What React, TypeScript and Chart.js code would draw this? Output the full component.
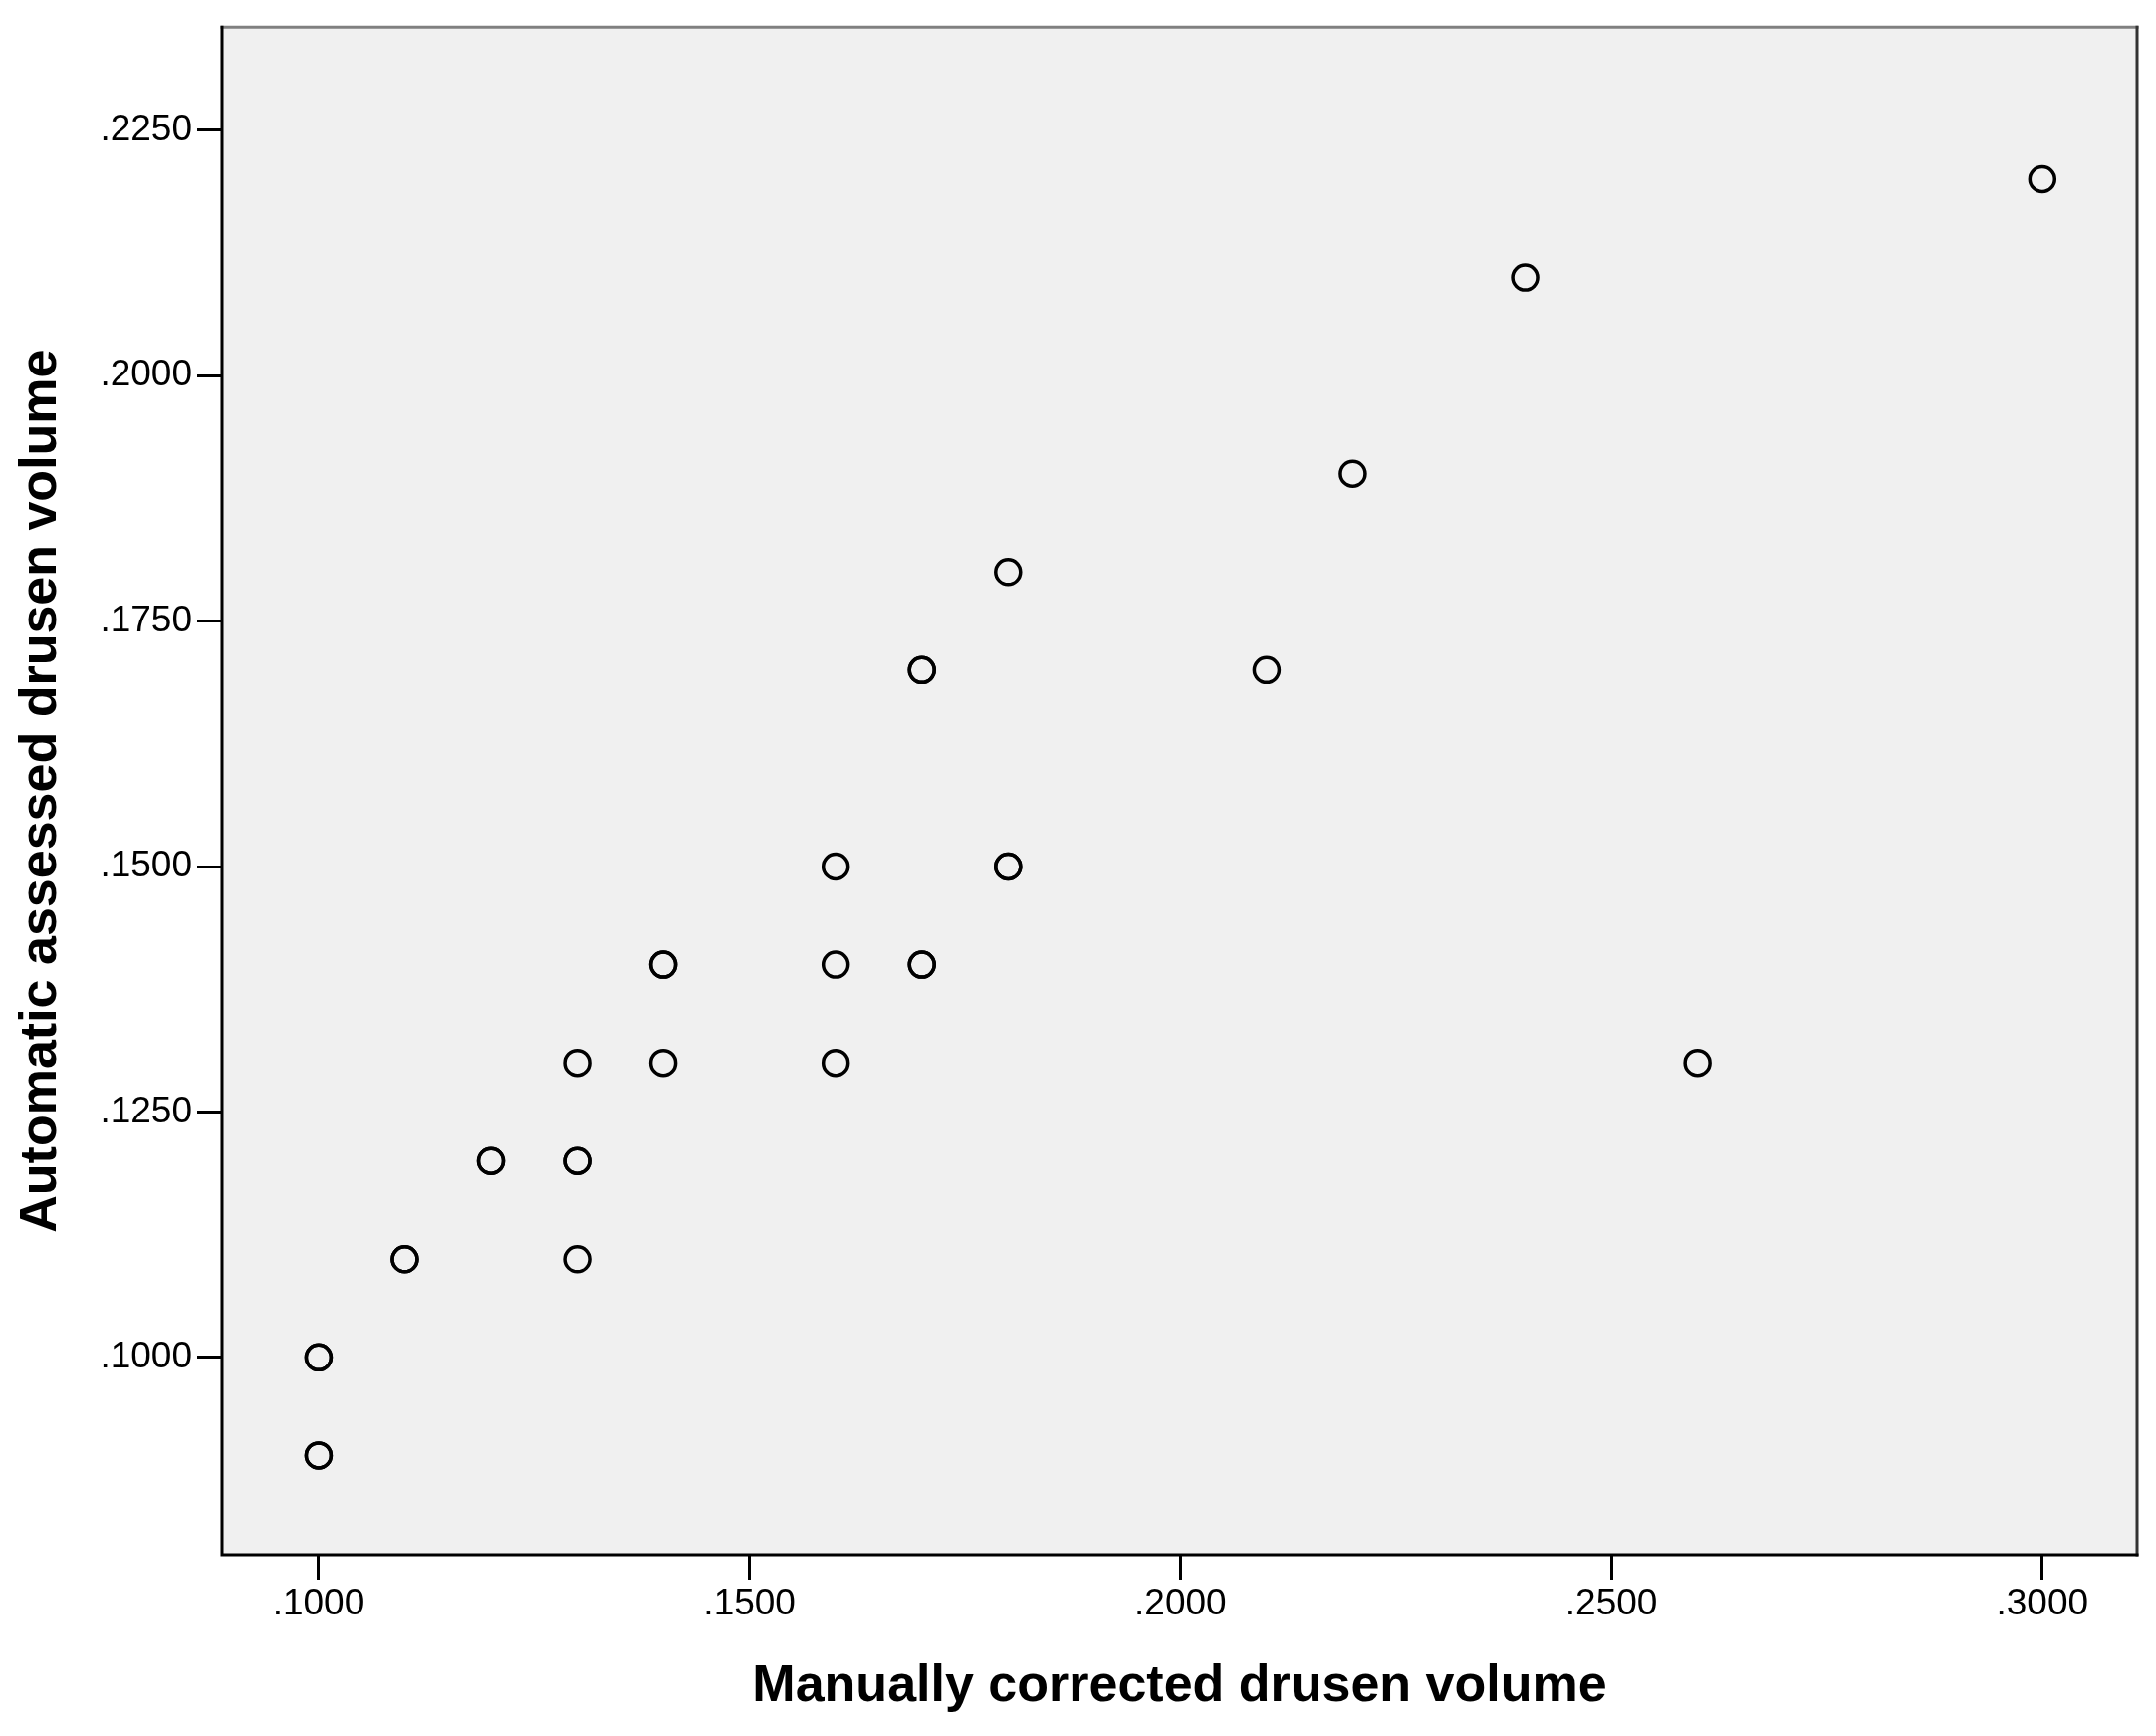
import React, { useEffect, useRef } from "react";
import { Chart, registerables } from "chart.js";

Chart.register(...registerables);

// Manually corrected drusen volume (x) vs automatic assessed drusen volume (y).
// Repeated pairs are overlapping cases (drawn darker in the reference).
const X_VALUES = [
  0.1, 0.1, 0.1, 0.1, 0.11, 0.11, 0.12, 0.12, 0.13, 0.13, 0.13, 0.13, 0.14, 0.14, 0.14,
  0.16, 0.16, 0.16, 0.17, 0.17, 0.17, 0.17, 0.18, 0.18, 0.18, 0.21, 0.22, 0.24, 0.26, 0.3,
];
const Y_VALUES = [
  0.1, 0.1, 0.09, 0.09, 0.11, 0.11, 0.12, 0.12, 0.13, 0.12, 0.12, 0.11, 0.14, 0.14, 0.13,
  0.15, 0.14, 0.13, 0.17, 0.17, 0.14, 0.14, 0.18, 0.15, 0.15, 0.17, 0.19, 0.21, 0.13, 0.22,
];
const X_TICKS = [0.1, 0.15, 0.2, 0.25, 0.3];
const Y_TICKS = [0.1, 0.125, 0.15, 0.175, 0.2, 0.225];
const X_TITLE = "Manually corrected drusen volume";
const Y_TITLE = "Automatic assessed drusen volume";

const FONT = "'Liberation Sans', Arial, sans-serif";

const fmt = (v: number) => "." + v.toFixed(4).split(".")[1];

const frame = {
  id: "frame",
  beforeDatasetsDraw(chart: any) {
    const { ctx, chartArea: a } = chart;
    ctx.save();
    ctx.fillStyle = "#f0f0f0";
    ctx.fillRect(a.left, a.top, a.right - a.left, a.bottom - a.top);
    ctx.restore();
  },
  afterDatasetsDraw(chart: any) {
    const { ctx, chartArea: a } = chart;
    ctx.save();
    ctx.lineWidth = 3;
    ctx.lineCap = "square";
    ctx.strokeStyle = "#808080";
    ctx.beginPath();
    ctx.moveTo(a.left, a.top);
    ctx.lineTo(a.right, a.top);
    ctx.stroke();
    ctx.strokeStyle = "#333333";
    ctx.beginPath();
    ctx.moveTo(a.right, a.top);
    ctx.lineTo(a.right, a.bottom);
    ctx.stroke();
    ctx.strokeStyle = "#000000";
    ctx.beginPath();
    ctx.moveTo(a.left, a.top);
    ctx.lineTo(a.left, a.bottom);
    ctx.lineTo(a.right, a.bottom);
    ctx.stroke();
    ctx.restore();
  },
};

export default function App() {
  const ref = useRef<HTMLCanvasElement | null>(null);

  useEffect(() => {
    if (!ref.current) return;
    const points = X_VALUES.map((x, i) => ({ x, y: Y_VALUES[i] }));
    const chart = new Chart(ref.current, {
      type: "scatter",
      data: {
        datasets: [
          {
            data: points,
            pointStyle: "circle",
            pointRadius: 12.5,
            pointHoverRadius: 12.5,
            pointBorderWidth: 3.5,
            pointBorderColor: "#000000",
            pointBackgroundColor: "rgba(0,0,0,0)",
          },
        ],
      },
      options: {
        animation: false,
        responsive: false,
        devicePixelRatio: 1,
        layout: { padding: { left: 0, top: 20, right: 19, bottom: 0 } },
        plugins: { legend: { display: false }, tooltip: { enabled: false } },
        scales: {
          x: {
            type: "linear",
            min: 0.0888,
            max: 0.311,
            afterFit: (s: any) => {
              s.height = 182;
            },
            afterBuildTicks: (s: any) => {
              s.ticks = X_TICKS.map((v) => ({ value: v }));
            },
            border: { display: false },
            grid: {
              drawOnChartArea: false,
              drawTicks: true,
              tickLength: 25,
              tickWidth: 3,
              tickColor: "#000000",
            },
            ticks: {
              color: "#000000",
              padding: 3,
              maxRotation: 0,
              font: { family: FONT, size: 37 },
              callback: (v: any) => fmt(Number(v)),
            },
            title: {
              display: true,
              text: X_TITLE,
              color: "#000000",
              font: { family: FONT, size: 52, weight: "bold" },
              padding: { top: 0, bottom: 18 },
            },
          },
          y: {
            type: "linear",
            min: 0.0799,
            max: 0.2355,
            afterFit: (s: any) => {
              s.width = 223;
            },
            afterBuildTicks: (s: any) => {
              s.ticks = Y_TICKS.map((v) => ({ value: v }));
            },
            border: { display: false },
            grid: {
              drawOnChartArea: false,
              drawTicks: true,
              tickLength: 25,
              tickWidth: 3,
              tickColor: "#000000",
            },
            ticks: {
              color: "#000000",
              padding: 5,
              font: { family: FONT, size: 37 },
              callback: (v: any) => fmt(Number(v)),
            },
            title: {
              display: true,
              text: Y_TITLE,
              color: "#000000",
              font: { family: FONT, size: 52, weight: "bold" },
              padding: { top: 10, bottom: 0 },
            },
          },
        },
      },
      plugins: [frame],
    });
    return () => chart.destroy();
  }, []);

  return (
    <div
      style={{
        position: "absolute",
        left: 0,
        top: 0,
        width: 2165,
        height: 1743,
        background: "#ffffff",
      }}
    >
      <canvas ref={ref} width={2165} height={1743} style={{ display: "block" }} />
    </div>
  );
}
